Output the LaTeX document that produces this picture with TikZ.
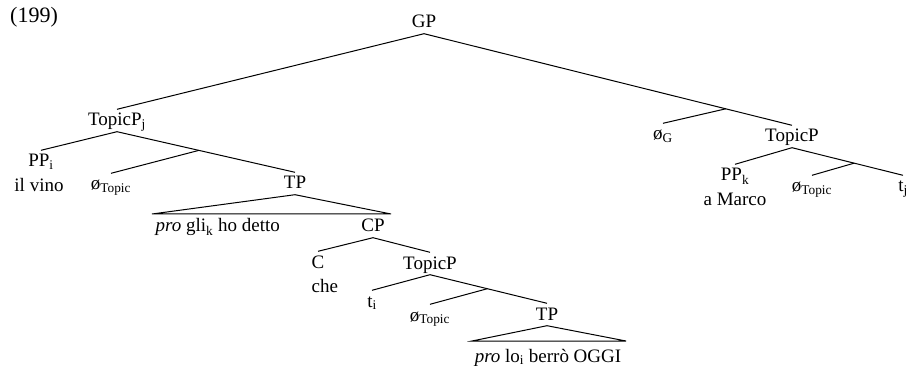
\documentclass[tikz,border=0pt]{standalone}
\usepackage{fontspec}
\setmainfont{Liberation Serif}
\usetikzlibrary{calc}
\newcommand{\sbs}[1]{\textsubscript{#1}}

\begin{document}
\begin{tikzpicture}[x=1pt,y=-1pt,
  cat/.style={anchor=base,inner sep=1.5pt,text height=15pt,text depth=4pt,
    font=\fontsize{19}{22}\selectfont},
  br/.style={line width=1pt}]
  \useasboundingbox (0,0) rectangle (910,366);
  \node[cat,font=\fontsize{22}{26}\selectfont] (ex) at (34,23) {(199)};
  % matrix clause
  \node[cat] (gp)    at (424,28)  {GP};
  \node[cat] (topj)  at (117,126) {TopicP\sbs{j}};
  \node[cat] (ppi)   at (41,167)  {PP\sbs{i}};
  \node[cat] (vino)  at (39,192)  {il vino};
  \node[cat] (nulA)  at (111,190) {ø\sbs{Topic}};
  \node[cat] (tpA)   at (295,189) {TP};
  \node[cat,anchor=base west] (proA) at (154,232) {\textit{pro} gli\sbs{k} ho detto};
  \node[cat] (cp)    at (373,232) {CP};
  % embedded clause
  \node[cat,anchor=base west] (c)   at (310,268) {C};
  \node[cat,anchor=base west] (che) at (310,292) {che};
  \node[cat] (topB)  at (430,269) {TopicP};
  \node[cat] (ti)    at (372,307) {t\sbs{i}};
  \node[cat] (nulB)  at (430,321) {ø\sbs{Topic}};
  \node[cat] (tpB)   at (547,320) {TP};
  \node[cat] (proB)  at (548,362) {\textit{pro} lo\sbs{i} berrò OGGI};
  % right-hand topic
  \node[cat] (nulG)  at (663,140) {ø\sbs{G}};
  \node[cat] (topC)  at (792,142) {TopicP};
  \node[cat] (ppk)   at (735,181) {PP\sbs{k}};
  \node[cat] (marco) at (735,206) {a Marco};
  \node[cat] (nulC)  at (812,192) {ø\sbs{Topic}};
  \node[cat] (tj)    at (903,192) {t\sbs{j}};
  % branches
  \draw[br] (gp.south) -- (topj.north);
  \draw[br] (gp.south) -- (topC.north);
  \coordinate (jG) at ($(gp.south)!0.82!(topC.north)$);
  \draw[br] (jG) -- (nulG.north);
  \draw[br] (topj.south) -- (ppi.north);
  \draw[br] (topj.south) -- (tpA.north);
  \coordinate (jA) at ($(topj.south)!0.46!(tpA.north)$);
  \draw[br] (jA) -- (nulA.north);
  \draw[br] (cp.south) -- (c.north);
  \draw[br] (cp.south) -- (topB.north);
  \draw[br] (topB.south) -- (ti.north);
  \draw[br] (topB.south) -- (tpB.north);
  \coordinate (jB) at ($(topB.south)!0.49!(tpB.north)$);
  \draw[br] (jB) -- (nulB.north);
  \draw[br] (topC.south) -- (ppk.north);
  \draw[br] (topC.south) -- (tj.north);
  \coordinate (jC) at ($(topC.south)!0.56!(tj.north)$);
  \draw[br] (jC) -- (nulC.north);
  % triangles
  \coordinate (aL) at (152,214);
  \coordinate (aR) at (391,214);
  \draw[br] (tpA.south) -- (aL) -- (aR) -- cycle;
  \coordinate (bL) at (472,341);
  \coordinate (bR) at (626,341);
  \draw[br] (tpB.south) -- (bL) -- (bR) -- cycle;
\end{tikzpicture}
\end{document}
